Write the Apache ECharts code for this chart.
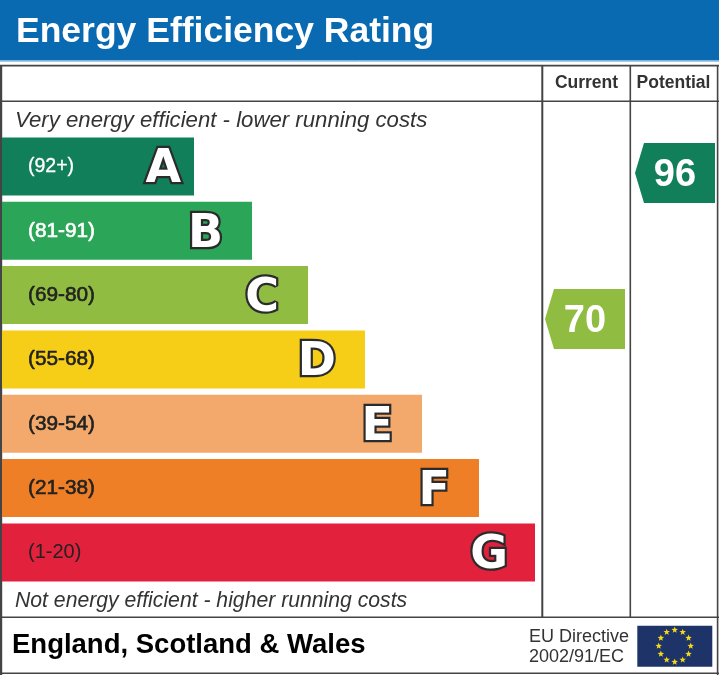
<!DOCTYPE html>
<html><head><meta charset="utf-8">
<style>html,body{margin:0;padding:0;background:#fff}#c{width:719px;height:675px}</style>
<script src="https://cdn.jsdelivr.net/npm/echarts@6/dist/echarts.min.js"></script>
</head><body><div id="c"></div>
<script>
const bandLetters = ['A','B','C','D','E','F','G'];
const bandRanges = ['(92+)','(81-91)','(69-80)','(55-68)','(39-54)','(21-38)','(1-20)'];
const bandLengths = [192,250,306,363,420,477,533];
const bandColors = ['#127F5B','#2BA558','#8FBC41','#F6CD17','#F3A96B','#EE7F27','#E2213D'];
const rangeLabelStyles = ['w','wb','db','db','db','db','d'];
const ratingColumns = ['Current','Potential'];
const ratingValues = [70,96];
const ratingColors = ['#8FBC41','#127F5B'];

const ink = '#444446';
const FONT = '"Liberation Sans", Arial, sans-serif';

function hline(y,x1,x2,w){return {type:'line',shape:{x1:x1,y1:y,x2:x2,y2:y},style:{stroke:ink,lineWidth:w||1.6},silent:true};}
function vline(x,y1,y2,w){return {type:'line',shape:{x1:x,y1:y1,x2:x,y2:y2},style:{stroke:ink,lineWidth:w||1.6},silent:true};}
function star(cx,cy,r){
  const pts=[];
  for(let i=0;i<10;i++){
    const a=-Math.PI/2+i*Math.PI/5, q=i%2?r*0.42:r;
    pts.push([cx+q*Math.cos(a),cy+q*Math.sin(a)]);
  }
  return {type:'polygon',shape:{points:pts},style:{fill:'#F7D917'},silent:true};
}
const stars=[];
for(let i=0;i<12;i++){
  const a=i*Math.PI/6;
  stars.push(star(674.7+16*Math.sin(a),646-16*Math.cos(a),3.4));
}

const chart = echarts.init(document.getElementById('c'),null,{renderer:'canvas'});
chart.setOption({
  animation:false,
  backgroundColor:'#ffffff',
  grid:[
    {left:2,top:134.3,width:717,height:450.3,containLabel:false},
    {left:543,top:94.4,width:174,height:505.4,containLabel:false}
  ],
  xAxis:[
    {gridIndex:0,type:'value',min:0,max:717,show:false},
    {gridIndex:1,type:'category',position:'top',data:ratingColumns,
     axisLine:{show:false},axisTick:{show:false},
     axisLabel:{interval:0,margin:2,fontFamily:FONT,fontWeight:'bold',fontSize:17.5,color:'#333333'}}
  ],
  yAxis:[
    {gridIndex:0,type:'category',inverse:true,data:bandRanges,
     axisLine:{show:false},axisTick:{show:false},
     axisLabel:{inside:true,margin:26,
       formatter:function(v,i){return '{'+rangeLabelStyles[i]+'|'+v+'}';},
       rich:{
         w:{fontFamily:FONT,fontSize:19.5,color:'#ffffff',textBorderColor:'#ffffff',textBorderWidth:0.3},
         wb:{fontFamily:FONT,fontSize:20.8,color:'#ffffff',textBorderColor:'#ffffff',textBorderWidth:0.6},
         d:{fontFamily:FONT,fontSize:20,color:'#222222'},
         db:{fontFamily:FONT,fontSize:20.8,color:'#222222',textBorderColor:'#222222',textBorderWidth:0.6}
       }},z:5},
    {gridIndex:1,type:'value',min:20,max:110,show:false}
  ],
  series:[
    {type:'bar',xAxisIndex:0,yAxisIndex:0,barWidth:58,silent:true,
     data:bandLengths.map((v,i)=>({value:v,itemStyle:{color:bandColors[i]},
       label:{formatter:bandLetters[i],distance:i===0?13:i===6?27:29}})),
     label:{show:true,position:'insideRight',offset:[0,4],fontFamily:'"DejaVu Sans"',fontWeight:'bold',
       fontSize:46,color:'#ffffff',textBorderColor:'#2b2b2d',textBorderWidth:4.5}},
    {type:'custom',xAxisIndex:1,yAxisIndex:1,silent:true,z:6,
     encode:{x:0,y:1},
     data:ratingValues.map((v,i)=>[i,v]),
     renderItem:function(params,api){
       const p=api.coord([api.value(0),api.value(1)]);
       const cx=p[0]+(params.dataIndex===0?-1.5:1.5), cy=p[1];
       return {type:'group',children:[
         {type:'polygon',shape:{points:[[cx-40,cy],[cx-31,cy-30],[cx+40,cy-30],[cx+40,cy+30],[cx-31,cy+30]]},
          style:{fill:ratingColors[params.dataIndex]}},
         {type:'text',style:{x:cx,y:cy+2,text:String(api.value(1)),align:'center',verticalAlign:'middle',
           font:'bold 38px '+FONT,fill:'#ffffff'}}
       ]};
     }}
  ],
  graphic:{elements:[
    {type:'group',silent:true,children:[
      {type:'rect',shape:{x:0,y:0,width:719,height:60.5},style:{fill:'#0A6AB1'}},
      {type:'line',shape:{x1:0,y1:61.2,x2:719,y2:61.2},style:{stroke:'#7FB0DA',lineWidth:1}},
      hline(65.6,0,719),hline(101.3,0,719),hline(617.3,0,719),hline(673.3,0,719),
      vline(1,65,675,2.4),vline(542.3,65,617,2),vline(630.3,65,617),vline(717.6,65,675)
    ]},
    {type:'text',left:16,top:14,silent:true,
     style:{text:'Energy Efficiency Rating',font:'bold 35.5px '+FONT,fill:'#ffffff'}},
    {type:'text',left:15,top:110,silent:true,
     style:{text:'Very energy efficient - lower running costs',font:'italic 22.2px '+FONT,fill:'#333333'}},
    {type:'text',left:15,top:591,silent:true,
     style:{text:'Not energy efficient - higher running costs',font:'italic 21.2px '+FONT,fill:'#333333'}},
    {type:'text',left:12,top:631,silent:true,
     style:{text:'England, Scotland & Wales',font:'bold 27.5px '+FONT,fill:'#000000'}},
    {type:'text',left:529,top:628,silent:true,
     style:{text:'EU Directive',font:'18px '+FONT,fill:'#333333'}},
    {type:'text',left:529,top:648,silent:true,
     style:{text:'2002/91/EC',font:'18px '+FONT,fill:'#333333'}},
    {type:'group',silent:true,children:[
      {type:'rect',shape:{x:637.3,y:625.7,width:75,height:41},style:{fill:'#1E3468'}}
    ].concat(stars)}
  ]}
});
</script></body></html>
